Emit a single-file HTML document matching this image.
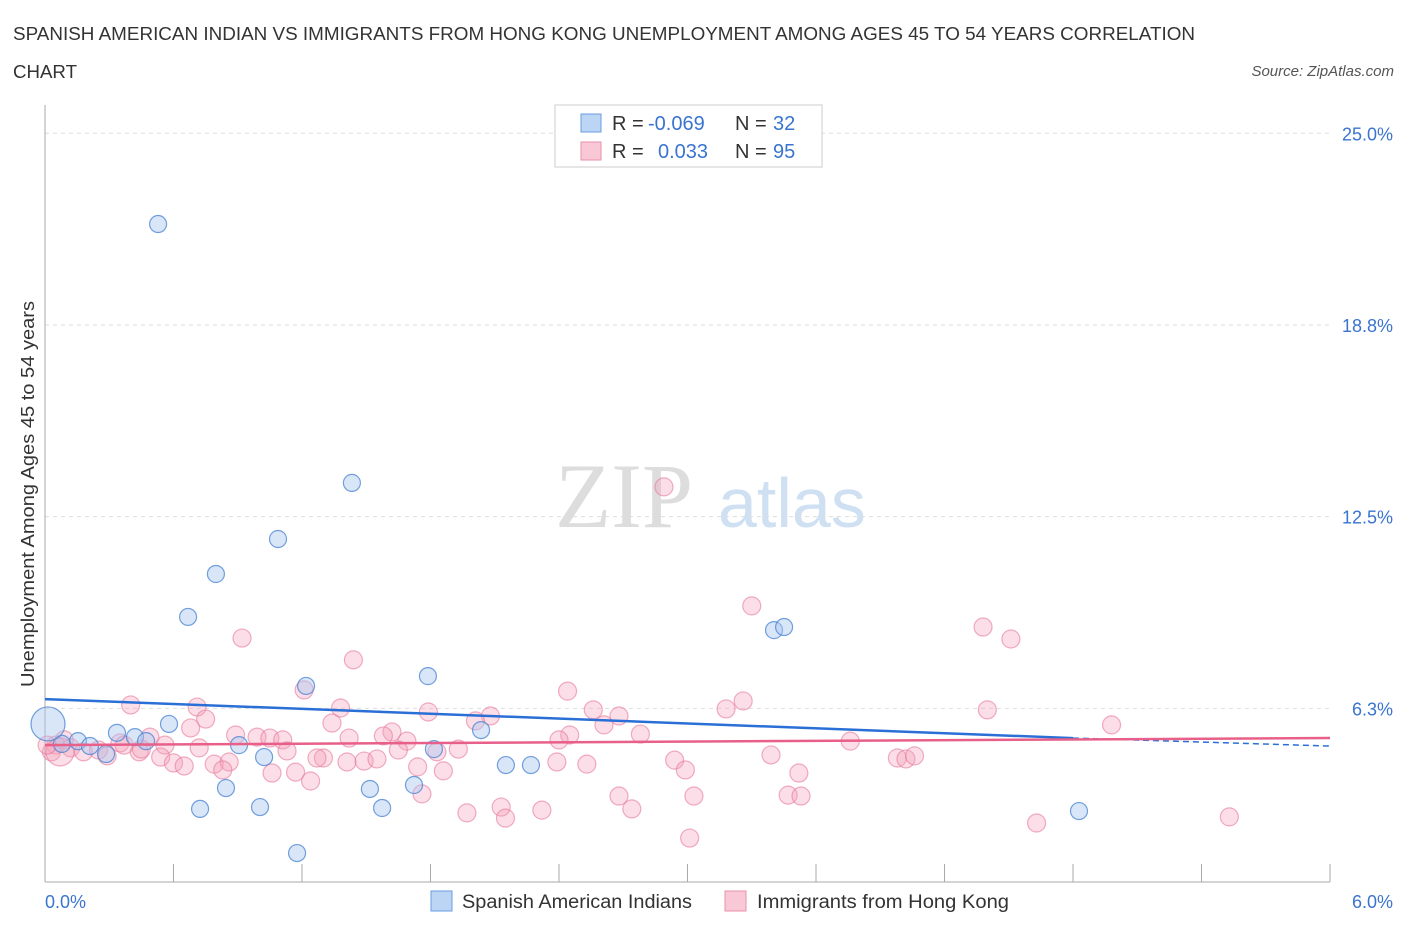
<!DOCTYPE html>
<html><head><meta charset="utf-8"><style>
body{margin:0;background:#fff;font-family:"Liberation Sans",sans-serif;}
svg{display:block}
</style></head><body>
<svg id="chart" width="1406" height="930" xmlns="http://www.w3.org/2000/svg">
<text x="13" y="40" font-size="18" fill="#333" textLength="1182" lengthAdjust="spacingAndGlyphs">SPANISH AMERICAN INDIAN VS IMMIGRANTS FROM HONG KONG UNEMPLOYMENT AMONG AGES 45 TO 54 YEARS CORRELATION</text>
<text x="13" y="78" font-size="18" fill="#333" textLength="64" lengthAdjust="spacingAndGlyphs">CHART</text>
<text x="1394" y="76" font-size="15" fill="#555" font-style="italic" text-anchor="end">Source: ZipAtlas.com</text>
<text x="555" y="527" font-size="92" fill="#ddd" font-family="Liberation Serif">ZIP</text>
<text x="718" y="527" font-size="70" fill="#cfe0f3">atlas</text>
<text transform="translate(34,494) rotate(-90)" font-size="18" fill="#333" text-anchor="middle" textLength="386" lengthAdjust="spacingAndGlyphs">Unemployment Among Ages 45 to 54 years</text>
<g id="grid"></g><g id="ticks"></g><g id="marks"></g>
<g>
<rect x="555" y="105" width="267" height="62" fill="#fff" stroke="#ccc"/>
<rect x="581" y="114" width="20" height="18" fill="#bcd5f5" stroke="#6a9de0"/>
<text x="612" y="130" font-size="20" fill="#333">R =</text>
<text x="648" y="130" font-size="20" fill="#3a74d0">-0.069</text>
<text x="735" y="130" font-size="20" fill="#333">N =</text>
<text x="773" y="130" font-size="20" fill="#3a74d0">32</text>
<rect x="581" y="142" width="20" height="18" fill="#f8c8d6" stroke="#ea8fab"/>
<text x="612" y="158" font-size="20" fill="#333">R =</text>
<text x="658" y="158" font-size="20" fill="#3a74d0">0.033</text>
<text x="735" y="158" font-size="20" fill="#333">N =</text>
<text x="773" y="158" font-size="20" fill="#3a74d0">95</text>
</g>
<g>
<rect x="431" y="891" width="21" height="20" fill="#bcd5f5" stroke="#6a9de0"/>
<text x="462" y="908" font-size="19" fill="#333" textLength="230" lengthAdjust="spacingAndGlyphs">Spanish American Indians</text>
<rect x="725" y="891" width="21" height="20" fill="#f8c8d6" stroke="#ea8fab"/>
<text x="757" y="908" font-size="19" fill="#333" textLength="252" lengthAdjust="spacingAndGlyphs">Immigrants from Hong Kong</text>
</g>
</svg>
<script>
const yTicks=[25,18.75,12.5,6.25];
const yTickLabels=["25.0%","18.8%","12.5%","6.3%"];
const xTicks=[0,0.6,1.2,1.8,2.4,3.0,3.6,4.2,4.8,5.4,6.0];
const blueX=[0.528,1.433,1.088,0.798,0.668,1.219,1.788,3.404,3.451,0.579,0.336,0.420,0.472,2.036,0.906,1.816,1.023,0.154,0.210,0.285,0.079,2.152,2.269,0.845,1.517,1.723,0.724,1.004,1.574,4.828,1.177,0.014];
const blueY=[22.04,13.60,11.77,10.63,9.23,6.98,7.30,8.80,8.90,5.74,5.45,5.31,5.18,5.54,5.05,4.92,4.66,5.18,5.02,4.76,5.09,4.40,4.40,3.65,3.62,3.75,2.97,3.03,3.00,2.90,1.53,5.74];
const blueR=[8.5,8.5,8.5,8.5,8.5,8.5,8.5,8.5,8.5,8.5,8.5,8.5,8.5,8.5,8.5,8.5,8.5,8.5,8.5,8.5,8.5,8.5,8.5,8.5,8.5,8.5,8.5,8.5,8.5,8.5,8.5,17];
const pinkX=[2.89,3.30,0.92,4.38,4.51,1.44,2.44,1.21,3.26,0.40,0.71,3.18,4.40,1.38,2.56,0.75,1.79,2.08,2.68,4.98,0.68,1.34,2.01,2.61,1.62,0.49,0.89,0.99,1.05,1.11,1.58,1.69,2.45,2.78,3.76,1.93,1.65,1.83,0.35,0.09,0.05,0.03,0.12,0.18,0.25,0.29,0.44,0.56,0.54,0.60,0.65,0.79,0.86,1.13,1.30,1.27,1.41,1.49,1.55,2.39,2.53,2.94,3.39,3.98,4.02,4.06,0.83,1.06,1.17,1.24,1.74,1.86,2.99,3.52,1.76,2.68,3.03,3.47,3.53,2.13,1.97,2.15,2.32,2.74,4.63,5.53,3.01,0.07,0.01,0.72,0.37,0.45,1.42,2.40];
const pinkY=[13.47,9.59,8.54,8.90,8.51,7.83,6.81,6.85,6.49,6.36,6.29,6.23,6.20,6.26,6.20,5.90,6.13,6.00,6.00,5.71,5.61,5.77,5.84,5.71,5.48,5.31,5.38,5.31,5.28,5.22,5.35,5.18,5.38,5.41,5.18,4.92,4.89,4.83,5.12,5.22,5.05,4.83,4.96,4.83,4.89,4.70,4.83,5.05,4.66,4.47,4.37,4.43,4.50,4.86,4.63,4.63,4.50,4.53,4.60,4.50,4.43,4.56,4.73,4.63,4.60,4.70,4.24,4.14,4.17,3.88,4.34,4.21,4.24,4.14,3.46,3.39,3.39,3.42,3.39,3.03,2.84,2.67,2.93,2.97,2.51,2.71,2.02,4.83,5.05,4.96,5.05,4.92,5.28,5.22];
const blueTrendX=[0,4.8,6.0];
const blueTrendY=[6.55,5.28,5.02];
const pinkTrendX=[0,6.0];
const pinkTrendY=[5.05,5.28];

const NS="http://www.w3.org/2000/svg";
const X0=45,X1=1330;
function sx(v){return X0+(v/6)*(X1-X0);}
function sy(v){return 900-v*30.67;}
function mk(tag,attrs,parent){const e=document.createElementNS(NS,tag);for(const k in attrs)e.setAttribute(k,attrs[k]);parent.appendChild(e);return e;}
const grid=document.getElementById('grid'),ticks=document.getElementById('ticks'),marks=document.getElementById('marks');
yTicks.forEach((t,i)=>{
  const l=mk('line',{x1:X0,x2:X1,y1:sy(t),y2:sy(t),stroke:'#ddd','stroke-dasharray':'4,4'},grid);
  
  
  const tx=mk('text',{x:1393,y:sy(t)+7,'font-size':18,fill:'#3a74d0','text-anchor':'end'},ticks);
  tx.textContent=yTickLabels[i];
  
  
});
const ax=mk('line',{x1:X0,x2:X0,y1:105,y2:882,stroke:'#aaa'},ticks);


const bx=mk('line',{x1:X0,x2:X1,y1:882,y2:882,stroke:'#aaa'},ticks);


xTicks.forEach(t=>{
  const l=mk('line',{x1:sx(t),x2:sx(t),y1:882,y2:864,stroke:'#aaa'},ticks);
  
  
});
const xl0=mk('text',{x:45,y:908,'font-size':18,fill:'#3a74d0'},ticks);xl0.textContent='0.0%';


const xl1=mk('text',{x:1393,y:908,'font-size':18,fill:'#3a74d0','text-anchor':'end'},ticks);xl1.textContent='6.0%';


pinkX.forEach((v,i)=>{
  const c=mk('circle',{cx:sx(v),cy:sy(pinkY[i]),r:i==87?14:9,fill:'rgba(244,160,185,0.35)',stroke:'rgba(232,120,155,0.6)','stroke-width':1.2},marks);
  
  
});
blueX.forEach((v,i)=>{
  const c=mk('circle',{cx:sx(v),cy:sy(blueY[i]),r:blueR[i],fill:'rgba(170,200,240,0.45)',stroke:'rgba(70,130,210,0.75)','stroke-width':1.2},marks);
  
  
});
const bt=mk('line',{x1:sx(blueTrendX[0]),y1:sy(blueTrendY[0]),x2:sx(blueTrendX[1]),y2:sy(blueTrendY[1]),stroke:'#2a6fd6','stroke-width':2.5},marks);


const bd=mk('line',{x1:sx(blueTrendX[1]),y1:sy(blueTrendY[1]),x2:sx(blueTrendX[2]),y2:sy(blueTrendY[2]),stroke:'#2a6fd6','stroke-width':1.5,'stroke-dasharray':'6,4'},marks);


const pt=mk('line',{x1:sx(pinkTrendX[0]),y1:sy(pinkTrendY[0]),x2:sx(pinkTrendX[1]),y2:sy(pinkTrendY[1]),stroke:'#e8608a','stroke-width':2.5},marks);


</script>
</body></html>
